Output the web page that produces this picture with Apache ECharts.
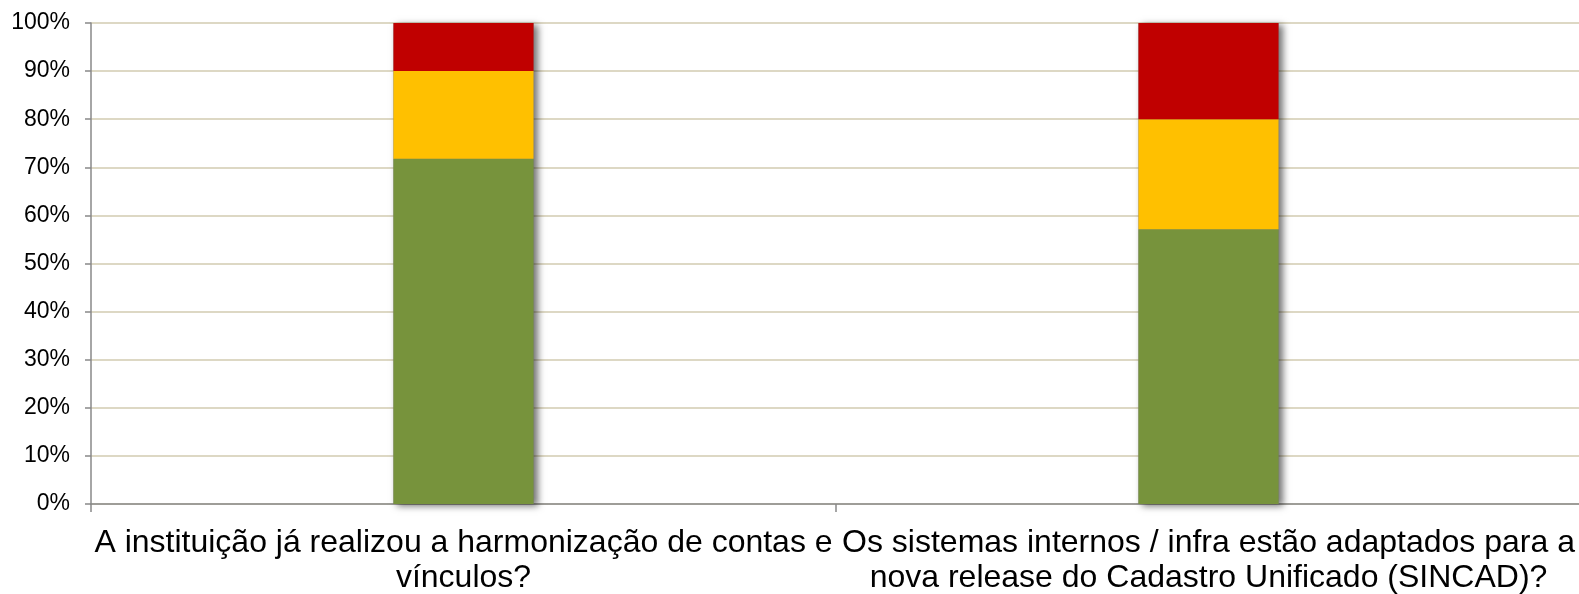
<!DOCTYPE html>
<html>
<head>
<meta charset="utf-8">
<script src="https://cdn.jsdelivr.net/npm/echarts@6/dist/echarts.min.js"></script>
<style>
html,body{margin:0;padding:0;background:#fff;}
#chart{width:1579px;height:594px;}
</style>
</head>
<body>
<div id="chart"></div>
<script>
const categories = [
  'A instituição já realizou a harmonização de contas e\nvínculos?',
  'Os sistemas internos / infra estão adaptados para a\nnova release do Cadastro Unificado (SINCAD)?'
];
const greenValues = [71.8, 57.1];
const yellowValues = [18.2, 22.9];
const redValues = [10.0, 20.0];
const yTickLabels = ['0%','10%','20%','30%','40%','50%','60%','70%','80%','90%','100%'];

const totals = categories.map((c, i) => greenValues[i] + yellowValues[i] + redValues[i]);

const chart = echarts.init(document.getElementById('chart'));
chart.setOption({
  animation: false,
  grid: { left: 91, top: 23, width: 1490, height: 481, containLabel: false, outerBoundsMode: 'none' },
  xAxis: {
    type: 'category',
    data: categories,
    axisLine: { lineStyle: { color: '#898989', width: 1.5 } },
    axisTick: { show: true, length: 8, lineStyle: { color: '#898989', width: 1.5 } },
    axisLabel: {
      interval: 0,
      color: '#000',
      fontFamily: '"Liberation Sans", Arial, sans-serif',
      fontSize: 32,
      lineHeight: 35,
      margin: 22,
      align: 'center'
    },
    splitLine: { show: false }
  },
  yAxis: {
    type: 'value',
    min: 0, max: 100, interval: 10,
    axisLine: { show: true, lineStyle: { color: '#898989', width: 1.5 } },
    axisTick: { show: true, length: 6, lineStyle: { color: '#898989', width: 1.5 } },
    axisLabel: {
      color: '#000',
      fontFamily: '"Liberation Sans", Arial, sans-serif',
      fontSize: 23,
      margin: 21,
      formatter: (v) => yTickLabels[Math.round(v / 10)]
    },
    splitLine: { show: true, lineStyle: { color: '#ddd8c4', width: 2 } }
  },
  series: [
    {
      name: 'shadow', type: 'bar', data: totals, barWidth: '18.8%', barGap: '-100%',
      itemStyle: { color: '#777', shadowColor: 'rgba(0,0,0,0.55)', shadowBlur: 7, shadowOffsetX: 4, shadowOffsetY: 2 },
      z: 1, silent: true
    },
    {
      name: 'Sim', type: 'bar', stack: 'a', data: greenValues, barWidth: '18.8%', barGap: '-100%',
      itemStyle: { color: '#77933c' }, z: 2
    },
    {
      name: 'Parcial', type: 'bar', stack: 'a', data: yellowValues, barWidth: '18.8%', barGap: '-100%',
      itemStyle: { color: '#ffc000' }, z: 2
    },
    {
      name: 'Não', type: 'bar', stack: 'a', data: redValues, barWidth: '18.8%', barGap: '-100%',
      itemStyle: { color: '#c00000' }, z: 2
    }
  ]
});
</script>
</body>
</html>
